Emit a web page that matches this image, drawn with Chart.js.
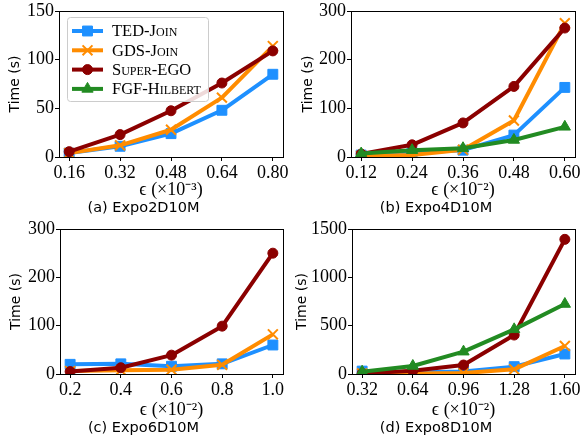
<!DOCTYPE html>
<html>
<head>
<meta charset="utf-8">
<script src="https://cdn.jsdelivr.net/npm/chart.js@4/dist/chart.umd.min.js"></script>
<style>
  body { margin: 0; background: #fff; }
  #wrap { position: relative; width: 584px; height: 440px; }
  canvas { position: absolute; }
</style>
</head>
<body>
<div id="wrap">
  <canvas id="c1" width="292" height="220" style="left:0;top:0"></canvas>
  <canvas id="c2" width="292" height="220" style="left:292px;top:0"></canvas>
  <canvas id="c3" width="292" height="220" style="left:0;top:220px"></canvas>
  <canvas id="c4" width="292" height="220" style="left:292px;top:220px"></canvas>
</div>
<script>
// series names
const names = ["TED-Join", "GDS-Join", "Super-EGO", "FGF-Hilbert"];

// (a) Expo2D10M
const epsA = [0.16, 0.32, 0.48, 0.64, 0.80];
const tedA = [4, 11, 24, 48, 85];
const gdsA = [4, 12, 28, 61, 114];
const egoA = [5.5, 23, 47.5, 76, 109];
const fgfA = [];

// (b) Expo4D10M
const epsB = [0.12, 0.24, 0.36, 0.48, 0.60];
const tedB = [4, 9, 14, 45, 143];
const gdsB = [2, 4, 15, 75, 275];
const egoB = [6, 25, 70, 145, 265];
const fgfB = [7, 14, 18, 35, 62];

// (c) Expo6D10M
const epsC = [0.2, 0.4, 0.6, 0.8, 1.0];
const tedC = [20, 21, 16, 21, 60];
const gdsC = [6, 8, 9, 19, 82];
const egoC = [5, 13, 39, 99, 250];
const fgfC = [];

// (d) Expo8D10M
const epsD = [0.32, 0.64, 0.96, 1.28, 1.60];
const tedD = [30, 15, 25, 76, 207];
const gdsD = [5, 5, 10, 48, 290];
const egoD = [5, 34, 93, 403, 1393];
const fgfD = [24, 83, 231, 462, 724];

const colors = ["#1e90ff", "#ff8c00", "#8b0000", "#228b22"];
const styles = ["rect", "crossRot", "circle", "triangle"];
const radii = [7, 7, 5, 6.5];
const ptBorder = [1, 2, 1, 1];

const serif = "'Liberation Serif', serif";
const sans = "'DejaVu Sans', sans-serif";

// draw the full axes frame
const framePlugin = {
  id: "frame",
  afterDatasetsDraw(chart) {
    const a = chart.chartArea;
    const ctx = chart.ctx;
    ctx.save();
    ctx.strokeStyle = "#000";
    ctx.lineWidth = 1;
    ctx.strokeRect(Math.round(a.left) + 0.5, Math.round(a.top) + 0.5,
      Math.round(a.right - a.left), Math.round(a.bottom - a.top));
    ctx.restore();
  }
};

// matplotlib style legend box (panel a only)
const legendPlugin = {
  id: "boxLegend",
  afterDraw(chart) {
    const ctx = chart.ctx;
    ctx.save();
    ctx.fillStyle = "rgba(255,255,255,0.85)";
    ctx.strokeStyle = "#cccccc";
    ctx.lineWidth = 1;
    ctx.beginPath();
    ctx.roundRect(67.5, 17.5, 141, 84, 3);
    ctx.fill();
    ctx.stroke();
    chart.data.datasets.forEach((ds, i) => {
      const y = 31 + i * 19.3;
      ctx.strokeStyle = ds.borderColor;
      ctx.lineWidth = ds.borderWidth;
      ctx.beginPath();
      ctx.moveTo(72, y);
      ctx.lineTo(103, y);
      ctx.stroke();
      ctx.fillStyle = ds.borderColor;
      ctx.lineWidth = ds.pointBorderWidth;
      Chart.helpers.drawPoint(ctx, {
        pointStyle: ds.pointStyle, radius: ds.pointRadius,
        borderWidth: ds.pointBorderWidth, rotation: 0
      }, 87.5, y);
      ctx.fillStyle = "#000";
      ctx.font = "small-caps 16.5px " + serif;
      ctx.textBaseline = "middle";
      ctx.textAlign = "left";
      ctx.fillText(ds.label, 112, y + 1);
    });
    ctx.restore();
  }
};

function makeChart(id, eps, series, o) {
  const span = eps[eps.length - 1] - eps[0];
  const datasets = series.map((ys, i) => ({
    label: names[i],
    data: ys.map((y, j) => ({ x: eps[j], y: y })),
    borderColor: colors[i],
    backgroundColor: colors[i],
    pointBackgroundColor: colors[i],
    pointBorderColor: colors[i],
    borderWidth: 4,
    pointStyle: styles[i],
    pointRadius: radii[i],
    pointBorderWidth: ptBorder[i],
    borderJoinStyle: "round",
    tension: 0,
    order: 3 - i
  }));

  return new Chart(document.getElementById(id), {
    type: "line",
    data: { datasets: datasets },
    options: {
      responsive: false,
      animation: false,
      events: [],
      layout: { padding: { top: o.top, right: o.right, left: 0, bottom: 0 } },
      plugins: {
        legend: { display: false },
        tooltip: { enabled: false },
        title: {
          display: true,
          position: "bottom",
          text: o.caption,
          color: "#000",
          font: { family: sans, size: 14.5, weight: "normal", lineHeight: 1.2 },
          padding: { top: 0, bottom: 3 }
        }
      },
      scales: {
        x: {
          type: "linear",
          min: eps[0] - 0.05 * span,
          max: eps[eps.length - 1] + 0.05 * span,
          afterBuildTicks(scale) {
            scale.ticks = eps.map((v) => ({ value: v }));
          },
          afterFit(scale) {
            scale.height = o.xh;
            scale.paddingLeft = 0;
            scale.paddingRight = 0;
          },
          ticks: {
            callback: (v) => Number(v).toFixed(o.dec),
            color: "#000",
            font: { family: serif, size: 18 },
            padding: 1,
            autoSkip: false,
            maxRotation: 0
          },
          grid: { drawOnChartArea: false, color: "#000", tickLength: 4 },
          border: { display: false },
          title: {
            display: true,
            text: o.xlabel,
            color: "#000",
            font: { family: serif, size: 18, lineHeight: 1 },
            padding: { top: 0, bottom: 0 }
          }
        },
        y: {
          min: 0,
          max: o.ymax,
          afterBuildTicks(scale) {
            scale.ticks = o.yticks.map((v) => ({ value: v }));
          },
          afterFit(scale) {
            scale.width = o.yw;
            scale.paddingTop = 0;
            scale.paddingBottom = 0;
          },
          ticks: {
            callback: (v) => String(v),
            color: "#000",
            font: { family: serif, size: 18 },
            padding: 1
          },
          grid: { drawOnChartArea: false, color: "#000", tickLength: 4 },
          border: { display: false },
          title: {
            display: true,
            text: "Time (s)",
            color: "#000",
            font: { family: sans, size: 14, lineHeight: 1.2 },
            padding: { top: o.tpad, bottom: 0 }
          }
        }
      }
    },
    plugins: o.legend ? [framePlugin, legendPlugin] : [framePlugin]
  });
}

makeChart("c1", epsA, [tedA, gdsA, egoA, fgfA], {
  caption: "(a) Expo2D10M", xlabel: "ϵ (×10⁻³)", dec: 2,
  ymax: 150, yticks: [0, 50, 100, 150],
  top: 11, right: 5, xh: 42.6, yw: 59, tpad: 6.5, legend: true
});
makeChart("c2", epsB, [tedB, gdsB, egoB, fgfB], {
  caption: "(b) Expo4D10M", xlabel: "ϵ (×10⁻²)", dec: 2,
  ymax: 300, yticks: [0, 100, 200, 300],
  top: 11, right: 4, xh: 42.6, yw: 59, tpad: 8, legend: false
});
makeChart("c3", epsC, [tedC, gdsC, egoC, fgfC], {
  caption: "(c) Expo6D10M", xlabel: "ϵ (×10⁻²)", dec: 1,
  ymax: 300, yticks: [0, 100, 200, 300],
  top: 9, right: 5, xh: 45.6, yw: 60, tpad: 7.5, legend: false
});
makeChart("c4", epsD, [tedD, gdsD, egoD, fgfD], {
  caption: "(d) Expo8D10M", xlabel: "ϵ (×10⁻²)", dec: 2,
  ymax: 1500, yticks: [0, 500, 1000, 1500],
  top: 9, right: 4, xh: 45.6, yw: 60, tpad: 1.5, legend: false
});
</script>
</body>
</html>
